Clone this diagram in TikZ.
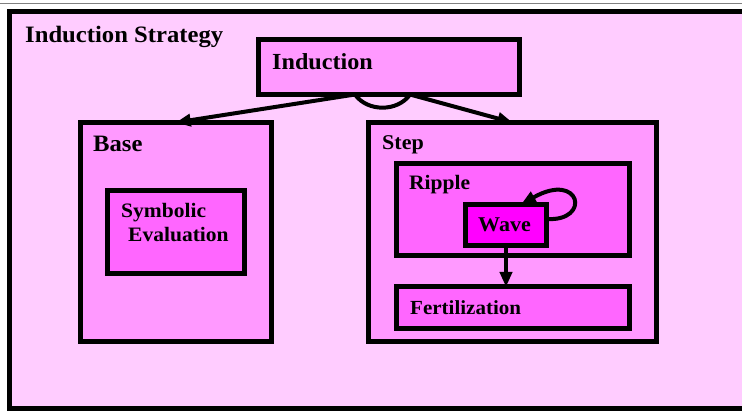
\documentclass[tikz,border=0pt]{standalone}
\usepackage{fontspec}
\setmainfont{Liberation Serif}[FakeStretch=1.05]
\usepackage{tikz}
\usetikzlibrary{arrows.meta}
\usetikzlibrary{positioning}

\definecolor{pinkA}{RGB}{255,204,255}
\definecolor{pinkB}{RGB}{255,153,255}
\definecolor{pinkC}{RGB}{255,102,255}
\definecolor{pinkD}{RGB}{255,0,255}

\tikzset{
  box/.style={draw, line width=5, outer sep=0, inner sep=0, anchor=north west},
  boxA/.style={box, fill=pinkA},
  boxB/.style={box, fill=pinkB},
  boxC/.style={box, fill=pinkC},
  boxD/.style={box, fill=pinkD},
  bigtext/.style={anchor=base west, inner sep=0, font=\bfseries\fontsize{23.5}{27}\selectfont},
  smalltext/.style={anchor=base west, inner sep=0, align=left, font=\bfseries\fontsize{20.5}{24}\selectfont},
  flow/.style={line width=4, arrows=-{Triangle[length=15,width=12]}}
}

\begin{document}
\begin{tikzpicture}[x=1pt,y=-1pt]
    \useasboundingbox (0,0) rectangle (742,411);
    \clip (0,0) rectangle (742,411);
    \draw [gray, line width=1.3] (0,3.5) -- (742,3.5);

    % boxes
    \node [boxA, minimum width=760, minimum height=397.5] (strategy) at (9,11.5) {};
    \node [boxB, minimum width=261, minimum height=55] (induction) at (258.5,39.5) {};
    \node [boxB, minimum width=191.5, minimum height=219] (base) at (80,122.5) {};
    \node [boxC, minimum width=137, minimum height=83] (symbolic) at (107.5,190.5) {};
    \node [boxB, minimum width=288, minimum height=219] (step) at (368.5,122.5) {};
    \node [boxC, minimum width=233.5, minimum height=92.5] (ripple) at (396,163.5) {};
    \node [boxD, minimum width=81, minimum height=41] (wave) at (465.5,204.5) {};
    \node [boxC, minimum width=233.5, minimum height=41.5] (fert) at (396,287) {};

    % labels
    \node [bigtext] (strategylabel) at (25,43) {Induction Strategy};
    \node [bigtext, font=\bfseries\fontsize{23}{27}\selectfont] (inductionlabel) at (272,70) {Induction};
    \node [bigtext] (baselabel) at (93,152) {Base};
    \node [smalltext, font=\bfseries\fontsize{21}{24}\selectfont] (steplabel) at (382,150) {Step};
    \node [smalltext] (ripplelabel) at (409,190) {Ripple};
    \node [smalltext] (symboliclabel) at (121,242) {Symbolic\\\hspace{7pt}Evaluation};
    \node [smalltext, font=\bfseries\fontsize{21}{24}\selectfont] (wavelabel) at (478,232) {Wave};
    \node [smalltext, font=\bfseries\fontsize{20}{24}\selectfont] (fertlabel) at (410,315) {Fertilization};

    % connectors
    \coordinate (indL) at ([xshift=-34]induction.south);
    \coordinate (indR) at ([xshift=21]induction.south);
    \draw [flow] (indL) -- (base.north);
    \draw [flow] (indR) -- (step.north);
    \draw [line width=4] (indL) to[out=-55,in=-125] (indR);

    \draw [flow] ([yshift=6]wave.east) .. controls +(45,3) and +(60,-34) .. ([xshift=15]wave.north);
    \draw [flow] (wave.south) -- (wave.south |- fert.north);

  \end{tikzpicture}
\end{document}
